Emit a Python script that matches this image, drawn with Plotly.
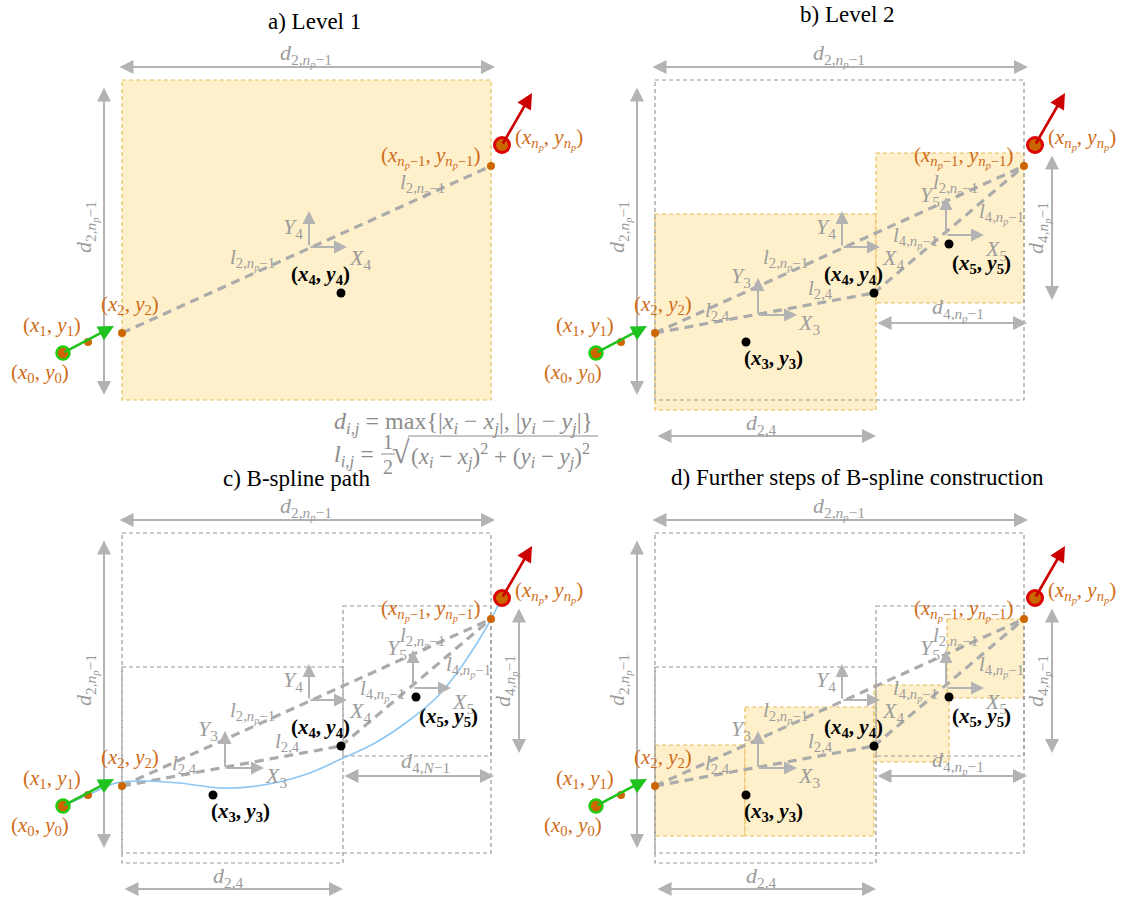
import plotly.graph_objects as go

W, H = 1127, 898

# ---- panel layout (offset of each panel's local frame) ----
panel_ids = ["a", "b", "c", "d"]
panel_dx = [0, 533, 0, 533]
panel_dy = [0, 0, 453, 453]
panel_titles = ["a) Level 1", "b) Level 2", "c) B-spline path",
                "d) Further steps of B-spline construction"]
title_x = [314, 847, 296, 857]
title_y = [21, 14, 478, 477]

# ---- path points in the local frame ----
pt_names = ["0", "1", "2", "3", "4", "5", "nm1", "n"]
pt_x = [63, 88, 122, 213, 341, 416, 491, 502]
pt_y = [353, 342, 333, 342, 293, 244, 166, 145]
PT = {n: (x, y) for n, x, y in zip(pt_names, pt_x, pt_y)}

# heading vectors at the start / goal (tip positions)
start_tip = (114, 326)
goal_tip = (532, 93)

# ---- rectangles (x0, y0, x1, y1) ----
box_level1 = (122, 80, 491, 400)
box_level2 = [(122, 214, 343, 410), (343, 153, 491, 303)]
box_level3 = [(122, 292, 212, 383), (212, 254, 341, 383),
              (341, 232, 416, 309), (414, 166, 491, 245)]

# ---- local reference frames (origin x, origin y, x-tip, y-tip) ----
frames = {"3": (225, 315, 264, 278), "4": (309, 247, 347, 211),
          "5": (413, 235, 451, 197)}
frame_lbl = {"3": ((208, 277), (276, 324)), "4": ((293, 228), (360, 259)),
             "5": ((397, 196), (463, 250))}

# ---- spline samples (panel c) ----
spline_x = [63, 90, 116, 143, 179, 221, 257, 304, 341, 375, 411, 439, 464, 489, 501]
spline_y = [353, 341, 330, 328, 330, 335, 333, 322, 306, 290, 266, 242, 210, 170, 146]

ORANGE = "#CC6600"
ORANGE_T = "#CF6B16"
GRAY_A = "#B3B3B3"
GRAY_T = "#9C9C9C"
DASH_C = "#ABABAB"
Y_FILL = "#FEF0CB"
Y_LINE = "#E6BD5C"
BOX_G = "#9A9A9A"
FONT = "Liberation Serif, DejaVu Serif, serif"

shapes, anns, traces = [], [], []


def P(p, x, y):
    return x + panel_dx[p], y + panel_dy[p]


def rect(p, r, fill, line, lw=1.2, dash="4px,3px"):
    x0, y0 = P(p, r[0], r[1])
    x1, y1 = P(p, r[2], r[3])
    shapes.append(dict(type="rect", xref="x", yref="y", x0=x0, y0=y0, x1=x1, y1=y1,
                       fillcolor=fill, line=dict(color=line, width=lw, dash=dash),
                       layer="below"))


def seg(p, a, b, color=DASH_C, lw=3.2, dash="9px,6px"):
    x0, y0 = P(p, *a)
    x1, y1 = P(p, *b)
    shapes.append(dict(type="line", xref="x", yref="y", x0=x0, y0=y0, x1=x1, y1=y1,
                       line=dict(color=color, width=lw, dash=dash), layer="below"))


def arrow(p, a, b, color=GRAY_A, lw=2, both=False, size=1.4):
    x0, y0 = P(p, *a)
    x1, y1 = P(p, *b)
    anns.append(dict(x=x1, y=y1, ax=x0, ay=y0, xref="x", yref="y", axref="x", ayref="y",
                     text="", showarrow=True, arrowhead=2, arrowsize=size, arrowwidth=lw,
                     arrowcolor=color, arrowside="end+start" if both else "end",
                     startarrowhead=2, startarrowsize=size, standoff=0, startstandoff=0))


def text(p, x, y, s, color=GRAY_T, size=22, angle=0, xanchor="center"):
    X, Y = P(p, x, y)
    anns.append(dict(x=X, y=Y, xref="x", yref="y", text=s, showarrow=False,
                     font=dict(family=FONT, size=size, color=color), textangle=angle,
                     xanchor=xanchor, yanchor="middle"))


def dots(p, names, color, size, line_color=None, lw=0):
    xs, ys = [], []
    for n in names:
        x, y = P(p, *PT[n])
        xs.append(x)
        ys.append(y)
    traces.append(go.Scatter(x=xs, y=ys, mode="markers", hoverinfo="skip",
                             marker=dict(color=color, size=size,
                                         line=dict(color=line_color or color, width=lw))))


def sub(base, s):
    return f"<i>{base}</i><sub>{s}</sub>"


NP1 = "<i>n</i><sub><i>p</i></sub>−1"
NP = "<i>n</i><sub><i>p</i></sub>"
lab_d2n = sub("d", "2," + NP1)
lab_d24 = sub("d", "2,4")
lab_d4n = sub("d", "4," + NP1)
lab_l2n = sub("l", "2," + NP1)
lab_l24 = sub("l", "2,4")
lab_l4n = sub("l", "4," + NP1)
LS = 21  # size of the segment labels


def pt_lab(i):
    return f"(<i>x</i><sub>{i}</sub>, <i>y</i><sub>{i}</sub>)"


for p in range(4):
    # boxes
    if p == 0:
        rect(p, box_level1, Y_FILL, Y_LINE)
    if p == 1:
        for r in box_level2:
            rect(p, r, Y_FILL, Y_LINE)
    if p == 3:
        for r in box_level3:
            rect(p, r, Y_FILL, Y_LINE)
    if p >= 1:
        rect(p, box_level1, "rgba(0,0,0,0)", BOX_G)
    if p >= 2:
        for r in box_level2:
            rect(p, r, "rgba(0,0,0,0)", BOX_G)

    # half-distance segments
    seg(p, PT["2"], PT["nm1"])
    if p >= 1:
        seg(p, PT["2"], PT["4"])
        seg(p, PT["4"], PT["nm1"])

    # dimension arrows
    arrow(p, (118, 67), (495, 67), both=True)
    text(p, 306, 55, lab_d2n)
    arrow(p, (104, 86), (104, 395), both=True)
    text(p, 86, 227, lab_d2n, angle=-90)
    if p >= 1:
        arrow(p, (123, 436), (343, 436), both=True)
        text(p, 228, 424, lab_d24)
        arrow(p, (343, 323), (494, 323), both=True)
        text(p, 425, 309, sub("d", "4,<i>N</i>−1") if p == 2 else lab_d4n)
        arrow(p, (519, 154), (519, 300), both=True)
        text(p, 505, 228, lab_d4n, angle=-90)

    # local frames
    fr = ["4"] if p == 0 else ["3", "4", "5"]
    for f in fr:
        ox, oy, xt, yt = frames[f]
        arrow(p, (ox, oy), (xt, oy), size=1.3)
        arrow(p, (ox, oy), (ox, yt), size=1.3)
        (yx, yy), (xx, xy) = frame_lbl[f]
        text(p, yx, yy, f"<i>Y</i><sub>{f}</sub>", size=22)
        text(p, xx, xy, f"<i>X</i><sub>{f}</sub>", size=22)

    # segment labels
    text(p, 252, 259, lab_l2n, size=LS)
    text(p, 422, 184, lab_l2n, size=LS)
    if p >= 1:
        text(p, 184, 311, lab_l24, size=LS)
        text(p, 287, 289, lab_l24, size=LS)
        text(p, 382, 237, lab_l4n, size=LS)
        text(p, 468, 213, lab_l4n, size=LS)

    # spline path
    if p == 2:
        xs = [x + panel_dx[p] for x in spline_x]
        ys = [y + panel_dy[p] for y in spline_y]
        traces.append(go.Scatter(x=xs, y=ys, mode="lines", hoverinfo="skip",
                                 line=dict(color="#8EC6F2", width=1.6, shape="spline",
                                           smoothing=1.0)))

    # heading arrows
    arrow(p, PT["0"], start_tip, color="#1FC21F", lw=2.6, size=1.2)
    arrow(p, PT["n"], goal_tip, color="#CC0000", lw=2.6, size=1.2)

    # points
    dots(p, ["1", "2", "nm1"], ORANGE, 8)
    dots(p, ["0"], ORANGE, 13, "#22CC11", 2.5)
    dots(p, ["n"], ORANGE, 15, "#DD0000", 3)
    dots(p, ["4"] if p == 0 else ["3", "4", "5"], "black", 9)

    # point labels
    text(p, 40, 373, pt_lab("0"), ORANGE_T, 21)
    text(p, 52, 326, pt_lab("1"), ORANGE_T, 21)
    text(p, 130, 305, pt_lab("2"), ORANGE_T, 21)
    text(p, 430, 157, f"(<i>x</i><sub>{NP1}</sub>, <i>y</i><sub>{NP1}</sub>)", ORANGE_T, 21)
    text(p, 549, 139, f"(<i>x</i><sub>{NP}</sub>, <i>y</i><sub>{NP}</sub>)", ORANGE_T, 21)
    text(p, 320, 275, "<b>" + pt_lab("4") + "</b>", "black", 21)
    if p >= 1:
        text(p, 240, 359, "<b>" + pt_lab("3") + "</b>", "black", 21)
        text(p, 448, 264, "<b>" + pt_lab("5") + "</b>", "black", 21)

# panel titles
for t, x, y in zip(panel_titles, title_x, title_y):
    anns.append(dict(x=x, y=y, xref="x", yref="y", text=t, showarrow=False,
                     font=dict(family=FONT, size=23, color="black"),
                     xanchor="center", yanchor="middle"))

# distance definitions
FG = "#8C8C8C"
text(0, 332, 423, "<i>d</i><sub><i>i,j</i></sub> = max{|<i>x</i><sub><i>i</i></sub> − <i>x</i><sub><i>j</i></sub>|, |<i>y</i><sub><i>i</i></sub> − <i>y</i><sub><i>j</i></sub>|}",
     FG, 24, xanchor="left")
text(0, 332, 456, "<i>l</i><sub><i>i,j</i></sub> =", FG, 24, xanchor="left")
text(0, 388, 442, "1", FG, 20)
text(0, 388, 467, "2", FG, 20)
text(0, 401, 452, "√", FG, 32)
text(0, 409, 456, "(<i>x</i><sub><i>i</i></sub> − <i>x</i><sub><i>j</i></sub>)<sup>2</sup> + (<i>y</i><sub><i>i</i></sub> − <i>y</i><sub><i>j</i></sub>)<sup>2</sup>",
     FG, 23, xanchor="left")
shapes.append(dict(type="line", xref="x", yref="y", x0=381, x1=395, y0=454, y1=454,
                   line=dict(color=FG, width=1)))
shapes.append(dict(type="line", xref="x", yref="y", x0=408, x1=598, y0=436, y1=436,
                   line=dict(color=FG, width=1)))

fig = go.Figure(traces)
fig.update_layout(
    width=W, height=H, margin=dict(l=0, r=0, t=0, b=0),
    paper_bgcolor="white", plot_bgcolor="white", showlegend=False,
    shapes=shapes, annotations=anns,
    xaxis=dict(range=[0, W], visible=False, fixedrange=True),
    yaxis=dict(range=[H, 0], visible=False, fixedrange=True),
)
fig.write_html("out.html")
